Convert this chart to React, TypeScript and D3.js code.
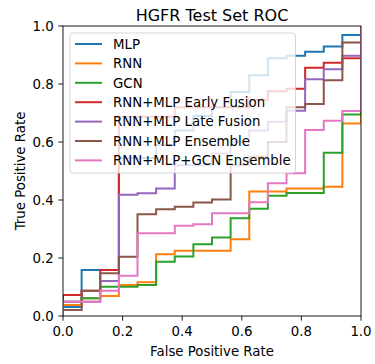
import React from "react";
import * as d3 from "d3";

const W = 375;
const H = 364;
const M = { left: 63, right: 14, top: 26, bottom: 48 };

const seriesNames = [
  "MLP",
  "RNN",
  "GCN",
  "RNN+MLP Early Fusion",
  "RNN+MLP Late Fusion",
  "RNN+MLP Ensemble",
  "RNN+MLP+GCN Ensemble",
];
const seriesColors = ["#1f77b4", "#ff7f0e", "#2ca02c", "#d62728", "#9467bd", "#8c564b", "#e377c2"];

const mlpFpr = [0, 0, 0.0625, 0.1875, 0.3125, 0.375, 0.4375, 0.5, 0.5625, 0.625, 0.6875, 0.75, 0.8125, 0.875, 0.9375, 1];
const mlpTpr = [0, 0.031, 0.159, 0.545, 0.59, 0.64, 0.69, 0.72, 0.772, 0.83, 0.889, 0.897, 0.911, 0.929, 0.969, 1];

const rnnFpr = [0, 0, 0.0625, 0.125, 0.1875, 0.25, 0.3125, 0.375, 0.5625, 0.625, 0.75, 0.875, 0.9375, 1];
const rnnTpr = [0, 0.038, 0.061, 0.069, 0.107, 0.116, 0.213, 0.225, 0.265, 0.429, 0.44, 0.446, 0.664, 1];

const gcnFpr = [0, 0, 0.0625, 0.125, 0.25, 0.3125, 0.375, 0.4375, 0.5, 0.5625, 0.625, 0.6875, 0.75, 0.875, 0.9375, 1];
const gcnTpr = [0, 0.049, 0.061, 0.101, 0.107, 0.187, 0.205, 0.247, 0.271, 0.337, 0.37, 0.415, 0.424, 0.563, 0.695, 1];

const earlyFpr = [0, 0, 0.0625, 0.125, 0.1875, 0.375, 0.625, 0.6875, 0.75, 0.8125, 0.875, 0.9375, 1];
const earlyTpr = [0, 0.072, 0.087, 0.159, 0.687, 0.72, 0.745, 0.775, 0.784, 0.856, 0.873, 0.889, 1];

const lateFpr = [0, 0, 0.125, 0.1875, 0.25, 0.3125, 0.375, 0.5, 0.5625, 0.625, 0.6875, 0.75, 0.8125, 0.875, 0.9375, 1];
const lateTpr = [0, 0.049, 0.121, 0.418, 0.423, 0.44, 0.52, 0.56, 0.6, 0.64, 0.67, 0.708, 0.816, 0.851, 0.897, 1];

const ensFpr = [0, 0, 0.0625, 0.125, 0.1875, 0.25, 0.3125, 0.375, 0.4375, 0.5, 0.5625, 0.625, 0.6875, 0.75, 0.8125, 0.875, 0.9375, 1];
const ensTpr = [0, 0.021, 0.087, 0.147, 0.204, 0.351, 0.368, 0.377, 0.391, 0.402, 0.52, 0.55, 0.6, 0.72, 0.731, 0.813, 0.943, 1];

const gcnEnsFpr = [0, 0, 0.125, 0.1875, 0.25, 0.375, 0.4375, 0.5, 0.625, 0.6875, 0.75, 0.8125, 0.875, 0.9375, 1];
const gcnEnsTpr = [0, 0.049, 0.087, 0.139, 0.285, 0.311, 0.316, 0.354, 0.392, 0.458, 0.492, 0.641, 0.673, 0.707, 1];

const seriesFpr = [mlpFpr, rnnFpr, gcnFpr, earlyFpr, lateFpr, ensFpr, gcnEnsFpr];
const seriesTpr = [mlpTpr, rnnTpr, gcnTpr, earlyTpr, lateTpr, ensTpr, gcnEnsTpr];

const tickValues = [0, 0.2, 0.4, 0.6, 0.8, 1.0];

const FONT = "'DejaVu Sans', sans-serif";

export default function App() {
  const iw = W - M.left - M.right;
  const ih = H - M.top - M.bottom;
  const x = d3.scaleLinear().domain([0, 1]).range([M.left, M.left + iw]);
  const y = d3.scaleLinear().domain([0, 1]).range([M.top + ih, M.top]);
  const line = d3
    .line<[number, number]>()
    .x((d) => x(d[0]))
    .y((d) => y(d[1]))
    .curve(d3.curveStepAfter);

  const paths = seriesNames.map((name, i) => {
    const pts: [number, number][] = seriesFpr[i].map((f, j) => [f, seriesTpr[i][j]]);
    return line(pts) || "";
  });

  const tickLen = 4.67;
  const legX = 70;
  const legY = 33;
  const legW = 225.5;
  const legH = 140;
  const rowH = 19.4;

  return (
    <svg
      width={W}
      height={H}
      style={{ position: "absolute", left: 0, top: 0, background: "#fff" }}
      fontFamily={FONT}
    >
      <rect x={0} y={0} width={W} height={H} fill="#fff" />
      <defs>
        <clipPath id="plotClip">
          <rect x={M.left} y={M.top} width={iw} height={ih} />
        </clipPath>
      </defs>
      <g clipPath="url(#plotClip)">
        {paths.map((d, i) => (
          <path
            key={i}
            d={d}
            fill="none"
            stroke={seriesColors[i]}
            strokeWidth={2}
            strokeLinejoin="miter"
            strokeLinecap="square"
          />
        ))}
      </g>
      {/* legend */}
      <g>
        <rect
          x={legX}
          y={legY}
          width={legW}
          height={legH}
          rx={3}
          fill="#fff"
          fillOpacity={0.8}
          stroke="#cccccc"
          strokeOpacity={0.8}
          strokeWidth={1}
        />
        {seriesNames.map((name, i) => {
          const cy = legY + 11 + i * rowH;
          return (
            <g key={name}>
              <line x1={75} x2={102} y1={cy} y2={cy} stroke={seriesColors[i]} strokeWidth={2} />
              <text x={113} y={cy + 4.8} fontSize={13.33} fill="#000">
                {name}
              </text>
            </g>
          );
        })}
      </g>
      {/* spines */}
      <rect x={M.left} y={M.top} width={iw} height={ih} fill="none" stroke="#000" strokeWidth={0.9} />
      {/* x ticks */}
      {tickValues.map((t) => (
        <g key={"x" + t}>
          <line x1={x(t)} x2={x(t)} y1={y(0)} y2={y(0) + tickLen} stroke="#000" strokeWidth={0.9} />
          <text x={x(t)} y={336} fontSize={13.33} textAnchor="middle" fill="#000">
            {t.toFixed(1)}
          </text>
        </g>
      ))}
      {tickValues.map((t) => (
        <g key={"y" + t}>
          <line x1={x(0) - tickLen} x2={x(0)} y1={y(t)} y2={y(t)} stroke="#000" strokeWidth={0.9} />
          <text x={53.7} y={y(t) + 4.8} fontSize={13.33} textAnchor="end" fill="#000">
            {t.toFixed(1)}
          </text>
        </g>
      ))}
      <text x={x(0.5)} y={356} fontSize={13.33} textAnchor="middle" fill="#000">
        False Positive Rate
      </text>
      <text
        transform={`translate(25, ${y(0.5)}) rotate(-90)`}
        fontSize={13.33}
        textAnchor="middle"
        fill="#000"
      >
        True Positive Rate
      </text>
      <text x={x(0.5)} y={20.5} fontSize={16} textAnchor="middle" fill="#000">
        HGFR Test Set ROC
      </text>
    </svg>
  );
}
